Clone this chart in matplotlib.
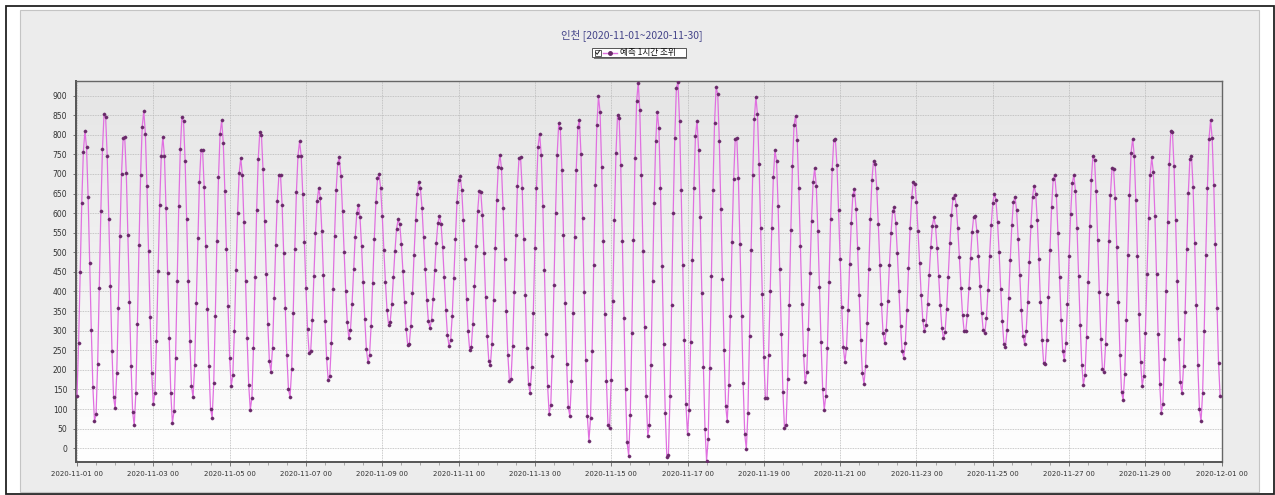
import numpy as np
import pandas as pd
import matplotlib
matplotlib.use("Agg")
import matplotlib.pyplot as plt
import matplotlib.dates as mdates
from matplotlib.patches import Rectangle
from matplotlib.lines import Line2D
from matplotlib.colors import LinearSegmentedColormap

plt.rcParams['font.family'] = ['Noto Sans CJK KR', 'DejaVu Sans']

# ---------------- data ----------------
start_time = '2020-11-01 00:00'
title_text = '인천 [2020-11-01~2020-11-30]'
series_label = '예측 1시간 조위'
y_ticks = list(range(0, 901, 50))

# hourly predicted tide level (cm), 2020-11-01 00h ... 2020-11-30 23h
tide_cm = [
    132, 268, 451, 627, 757, 810, 768, 640, 472, 301, 155, 69, 87, 216, 410, 605, 763, 852, 846, 745, 585, 413, 248, 130,
    102, 191, 359, 542, 699, 791, 795, 702, 544, 373, 211, 92, 58, 141, 317, 519, 697, 820, 861, 803, 668, 503, 335, 191,
    112, 141, 274, 453, 622, 745, 794, 745, 612, 447, 281, 141, 64, 94, 231, 427, 617, 764, 846, 835, 734, 585, 426, 273,
    159, 130, 212, 371, 537, 679, 760, 760, 666, 515, 356, 210, 101, 78, 166, 338, 530, 692, 803, 837, 780, 657, 508, 362,
    231, 159, 186, 300, 455, 601, 703, 741, 697, 577, 427, 281, 162, 98, 129, 257, 436, 608, 739, 808, 800, 712, 581, 444,
    318, 222, 195, 257, 383, 519, 632, 697, 697, 622, 497, 358, 237, 151, 130, 201, 345, 509, 653, 747, 783, 746, 649, 527,
    408, 305, 243, 248, 326, 440, 549, 630, 663, 639, 554, 441, 324, 229, 173, 185, 269, 406, 541, 659, 728, 742, 696, 605,
    502, 402, 321, 281, 301, 368, 457, 540, 600, 620, 589, 515, 425, 330, 254, 219, 237, 313, 422, 535, 629, 689, 699, 663,
    593, 507, 423, 352, 315, 323, 367, 436, 504, 560, 584, 571, 522, 452, 374, 305, 264, 266, 313, 395, 493, 582, 650, 679,
    663, 614, 538, 457, 379, 325, 306, 328, 381, 455, 525, 575, 593, 571, 513, 436, 354, 290, 261, 275, 337, 434, 535, 628,
    685, 696, 659, 582, 483, 381, 298, 251, 258, 317, 414, 515, 605, 656, 653, 595, 498, 385, 287, 223, 212, 267, 378, 510,
    633, 719, 749, 714, 614, 483, 350, 238, 171, 177, 261, 398, 544, 668, 740, 742, 665, 535, 390, 257, 164, 141, 206, 345,
    511, 663, 770, 803, 748, 618, 454, 291, 159, 88, 111, 235, 417, 600, 748, 829, 816, 709, 545, 371, 214, 104, 82, 172,
    345, 538, 709, 819, 838, 751, 587, 399, 224, 81, 19, 77, 249, 468, 671, 826, 898, 858, 719, 530, 342, 172, 58, 52,
    175, 375, 582, 753, 851, 843, 722, 530, 333, 150, 15, -19, 85, 295, 531, 740, 886, 933, 862, 697, 503, 309, 134, 32,
    58, 212, 427, 627, 783, 859, 816, 664, 466, 266, 91, -22, -17, 132, 365, 600, 793, 919, 935, 834, 659, 468, 275, 113,
    36, 98, 271, 480, 664, 797, 836, 760, 591, 397, 208, 50, -32, 23, 205, 440, 659, 829, 921, 904, 785, 611, 431, 250,
    108, 69, 162, 338, 527, 686, 788, 792, 690, 520, 338, 166, 35, -2, 91, 287, 506, 698, 839, 897, 852, 725, 561, 394,
    234, 127, 127, 237, 400, 562, 692, 760, 734, 617, 457, 292, 144, 51, 58, 176, 365, 556, 720, 824, 849, 786, 663, 516,
    367, 239, 168, 194, 303, 447, 581, 679, 715, 669, 554, 411, 270, 152, 98, 134, 257, 424, 585, 712, 786, 789, 722, 608,
    484, 360, 259, 219, 257, 352, 471, 575, 647, 662, 611, 510, 391, 275, 191, 164, 210, 319, 457, 585, 685, 734, 725, 665,
    572, 468, 367, 294, 269, 301, 376, 468, 549, 605, 615, 574, 497, 401, 311, 248, 231, 269, 352, 459, 562, 640, 679, 675,
    629, 555, 473, 390, 326, 298, 314, 368, 443, 513, 568, 589, 566, 511, 439, 365, 307, 280, 297, 356, 438, 524, 594, 639,
    647, 621, 561, 489, 408, 340, 298, 298, 340, 408, 486, 551, 591, 593, 554, 490, 414, 345, 301, 294, 332, 403, 490, 569,
    625, 650, 633, 577, 500, 406, 324, 267, 259, 301, 383, 480, 569, 628, 642, 607, 533, 442, 352, 287, 266, 298, 373, 475,
    568, 641, 670, 650, 582, 483, 374, 276, 217, 214, 277, 385, 507, 616, 686, 697, 646, 549, 436, 326, 248, 225, 269, 368,
    490, 598, 676, 698, 657, 562, 440, 314, 213, 162, 186, 285, 425, 568, 685, 747, 736, 656, 532, 399, 278, 201, 195, 267,
    393, 530, 647, 714, 713, 639, 513, 372, 239, 144, 122, 189, 326, 494, 646, 754, 790, 746, 633, 490, 342, 219, 159, 185,
    294, 445, 588, 698, 742, 704, 593, 445, 292, 164, 91, 113, 228, 402, 578, 725, 809, 807, 721, 582, 427, 278, 168, 140,
    209, 348, 509, 652, 739, 746, 667, 525, 365, 212, 100, 69, 141, 300, 493, 664, 789, 837, 791, 673, 520, 359, 218, 134,
]

times = pd.date_range(start_time, periods=len(tide_cm), freq='h')

# ---------------- figure ----------------
W, H = 1275, 495
fig = plt.figure(figsize=(W / 100, H / 100), dpi=100, facecolor='white')


def px(x, y):
    return (x / W, 1 - y / H)


def rect_px(x0, y0, x1, y1, **kw):
    fx0, fy1 = px(x0, y0)
    fx1, fy0 = px(x1, y1)
    r = Rectangle((fx0, fy0), fx1 - fx0, fy1 - fy0, transform=fig.transFigure, **kw)
    fig.patches.append(r)
    return r


# outer frame and grey panel
rect_px(5.7, 5.7, 1273.8, 494.0, facecolor='white', edgecolor='#222222', lw=1.3, zorder=0.05)
rect_px(20, 9.5, 1259, 491.5, facecolor='#ececec', edgecolor='#c4c4c4', lw=0.8, zorder=0.1)

# axes position
L, R, T, B = 75.7, 1221.7, 80.7, 462.3
pos = [L / W, 1 - B / H, (R - L) / W, (B - T) / H]

bg = fig.add_axes(pos, zorder=0.5)
grad = np.linspace(1, 0, 256).reshape(-1, 1)
cmap = LinearSegmentedColormap.from_list('g', ['#ffffff', '#e5e5e5'])
bg.imshow(grad, aspect='auto', cmap=cmap, extent=[0, 1, 0, 1], interpolation='bilinear')
bg.axis('off')

ax = fig.add_axes(pos, zorder=1)
ax.set_facecolor('none')

ax.plot(times, tide_cm, color='#e070e0', lw=0.9, zorder=3,
        marker='o', markersize=2.3, markerfacecolor='#6a2a6a', markeredgecolor='#6a2a6a',
        markeredgewidth=0.3)

t0 = pd.Timestamp(start_time)
ax.set_xlim(t0 - pd.Timedelta(minutes=49), t0 + pd.Timedelta(days=30))
ax.set_ylim(-36, 938)

ax.xaxis.set_major_locator(mdates.DayLocator(interval=2))
ax.xaxis.set_major_formatter(mdates.DateFormatter('%Y-%m-%d %H'))
ax.xaxis.set_minor_locator(mdates.HourLocator(byhour=[0, 12]))
ax.set_yticks(y_ticks)

ax.grid(True, which='major', axis='both', linestyle=(0, (1, 1)), color='#b8b8b8', lw=0.6)
ax.set_axisbelow(True)

ax.tick_params(axis='x', which='major', length=3, width=0.6, color='#666666',
               labelsize=5, labelcolor='#333333', pad=3)
ax.tick_params(axis='x', which='minor', length=2, width=0.5, color='#888888')
ax.tick_params(axis='y', which='major', length=2, width=0.6, color='#666666',
               labelsize=5.5, labelcolor='#333333', pad=4)
for lab in ax.get_xticklabels() + ax.get_yticklabels():
    lab.set_family(['DejaVu Sans'])

for side in ['left', 'bottom']:
    ax.spines[side].set_color('#555555')
    ax.spines[side].set_linewidth(1.4)
for side in ['top', 'right']:
    ax.spines[side].set_color('#666666')
    ax.spines[side].set_linewidth(1.0)

# title
tx, ty = px(632, 35)
fig.text(tx, ty, title_text, ha='center', va='center', fontsize=7.5, color='#45458a',
         family=['Noto Sans CJK KR', 'DejaVu Sans'])

# legend (manual)
rect_px(593.5, 49.5, 687.5, 58.5, facecolor='#777777', edgecolor='none', zorder=2)
rect_px(592, 48, 686, 57, facecolor='white', edgecolor='#555555', lw=0.7, zorder=2.1)
rect_px(594.5, 49.8, 600.5, 55.5, facecolor='white', edgecolor='#444444', lw=0.6, zorder=2.2)
cx = [595.6, 597.2, 599.6]
cy = [52.5, 54.3, 50.6]
fig.lines.append(Line2D([x / W for x in cx], [1 - y / H for y in cy], transform=fig.transFigure,
                        color='#222222', lw=0.7, zorder=2.3))
fig.lines.append(Line2D([603 / W, 617 / W], [1 - 52.5 / H] * 2, transform=fig.transFigure,
                        color='#e070e0', lw=1.0, zorder=2.3))
fig.lines.append(Line2D([610 / W], [1 - 52.5 / H], transform=fig.transFigure, marker='o',
                        markersize=2.5, color='#6a2a6a', lw=0, zorder=2.4))
lx, ly = px(620, 52.3)
fig.text(lx, ly, series_label, ha='left', va='center', fontsize=6.2, color='#111111',
         family=['Noto Sans CJK KR', 'DejaVu Sans'], zorder=2.5)

fig.savefig('out.png', dpi=100, facecolor='white')
